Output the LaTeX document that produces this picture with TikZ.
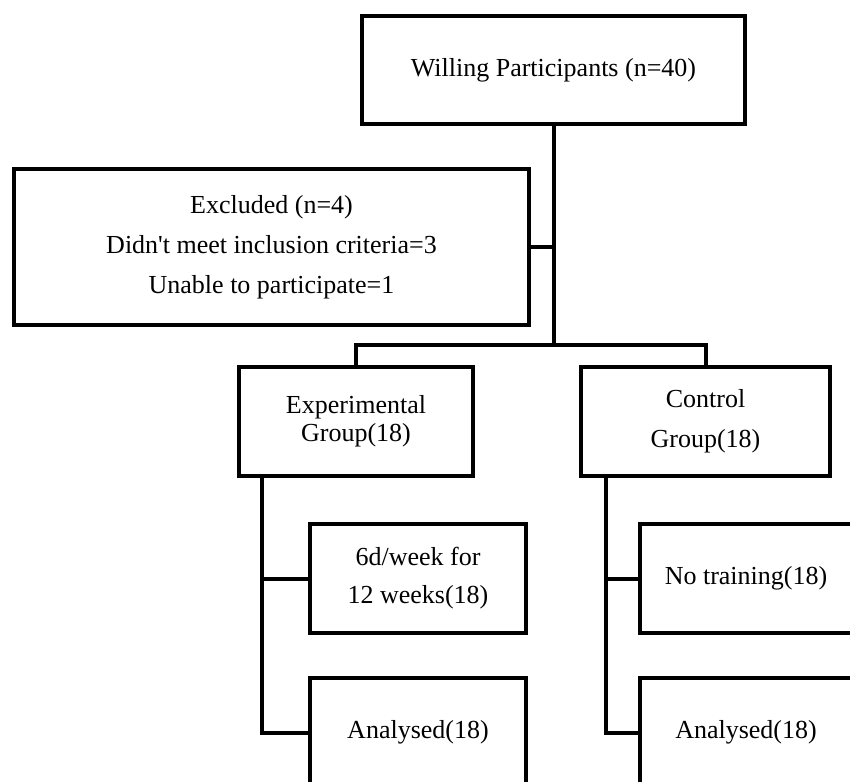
\documentclass[tikz,border=0pt]{standalone}
\usepackage{fontspec}
\setmainfont{Liberation Serif}
\begin{document}
\begin{tikzpicture}[x=1pt,y=-1pt,
  box/.style={draw, line width=4pt, align=center, inner sep=0pt, font=\fontsize{26}{40}\selectfont},
  link/.style={line width=4pt}]
\useasboundingbox (0,0) rectangle (850,781);
\clip (0,0) rectangle (850,781);
\node[box, minimum width=383pt, minimum height=108pt] (willing) at (553.5,70) {Willing Participants (n=40)};
\node[box, minimum width=515pt, minimum height=156pt] (excluded) at (271.5,247) {Excluded (n=4)\\Didn\textquotesingle t meet inclusion criteria=3\\Unable to participate=1};
\node[box, minimum width=234pt, minimum height=109pt, font=\fontsize{26}{28}\selectfont] (exp) at (356,421.5) {Experimental\\Group(18)};
\node[box, minimum width=249pt, minimum height=109pt] (ctrl) at (705.5,421.5) {Control\\Group(18)};
\node[box, minimum width=216pt, minimum height=109pt, font=\fontsize{26}{38}\selectfont] (training) at (418,578.5) {6d/week for\\12 weeks(18)};
\node[box, minimum width=216pt, minimum height=109pt] (expan) at (418,732.5) {Analysed(18)};
\node[box, minimum width=212pt, minimum height=109pt] (notrain) at (746,578.5) {No training(18)};
\node[box, minimum width=212pt, minimum height=109pt] (ctrlan) at (746,732.5) {Analysed(18)};
% connectors
\coordinate (fork) at (553.5,345);
\draw[link] (willing.south) -- (fork);
\draw[link] (excluded.east) -- (excluded.east -| fork);
\draw[link] (exp.north) |- (fork) -| (ctrl.north);
\coordinate (expdrop) at ([xshift=-94pt]exp.south);
\draw[link] (expdrop) |- (expan.west);
\draw[link] (training.west) -- (training.west -| expdrop);
\coordinate (ctrldrop) at ([xshift=-99.5pt]ctrl.south);
\draw[link] (ctrldrop) |- (ctrlan.west);
\draw[link] (notrain.west) -- (notrain.west -| ctrldrop);
\end{tikzpicture}
\end{document}
